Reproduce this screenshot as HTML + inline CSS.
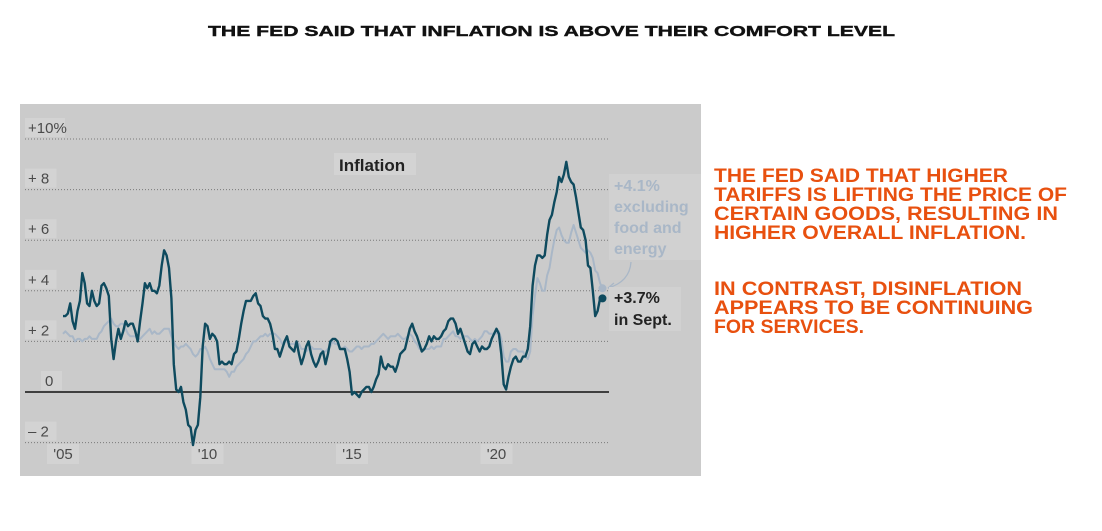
<!DOCTYPE html>
<html><head><meta charset="utf-8"><style>
html,body{margin:0;padding:0;background:#fff;}
svg{display:block;font-family:"Liberation Sans",sans-serif;}
</style></head><body>
<svg id="root" width="1102" height="531" viewBox="0 0 1102 531">
<text x="208" y="36" font-size="15" font-weight="bold" fill="#111" stroke="#111" stroke-width="0.4" textLength="687" lengthAdjust="spacingAndGlyphs">THE FED SAID THAT INFLATION IS ABOVE THEIR COMFORT LEVEL</text>
<rect x="20" y="104" width="681" height="372" fill="#cbcbcb"/>
<g id="grid"></g>
<g id="ticks"></g>
<g id="xticks"></g>
<g id="series"></g>
<rect x="334" y="153" width="82" height="22" fill="#d3d3d3"/>
<text x="339" y="171" font-size="17" font-weight="bold" fill="#222">Inflation</text>
<g font-size="16" font-weight="bold" fill="#a9b7c7">
<rect x="609" y="174" width="92" height="86" fill="#d1d1d1"/>
<text x="614" y="191">+4.1%</text>
<text x="614" y="212">excluding</text>
<text x="614" y="233">food and</text>
<text x="614" y="254">energy</text>
</g>
<path d="M631,262 C630,276 622,284 608,288" fill="none" stroke="#a9b7c7" stroke-width="1.3"/>
<path d="M608,288 l6,-5 M608,288 l7,1" fill="none" stroke="#a9b7c7" stroke-width="1.3"/>
<g font-size="16" font-weight="bold" fill="#222">
<rect x="609" y="287" width="72" height="44" fill="#d1d1d1"/>
<text x="614" y="303">+3.7%</text>
<text x="614" y="325">in Sept.</text>
</g>
<g font-size="19" font-weight="bold" fill="#e8500f">
<text x="714" y="182" textLength="294" lengthAdjust="spacingAndGlyphs">THE FED SAID THAT HIGHER</text>
<text x="714" y="201" textLength="353" lengthAdjust="spacingAndGlyphs">TARIFFS IS LIFTING THE PRICE OF</text>
<text x="714" y="220" textLength="344" lengthAdjust="spacingAndGlyphs">CERTAIN GOODS, RESULTING IN</text>
<text x="714" y="239" textLength="312" lengthAdjust="spacingAndGlyphs">HIGHER OVERALL INFLATION.</text>
<text x="714" y="295" textLength="308" lengthAdjust="spacingAndGlyphs">IN CONTRAST, DISINFLATION</text>
<text x="714" y="314" textLength="319" lengthAdjust="spacingAndGlyphs">APPEARS TO BE CONTINUING</text>
<text x="714" y="333" textLength="150" lengthAdjust="spacingAndGlyphs">FOR SERVICES.</text>
</g>
</svg>
<script>
const yTicks=[10,8,6,4,2,0,-2];
const yTickLabels=["+10%","+ 8","+ 6","+ 4","+ 2","0","– 2"];
const xTicks=[2005,2010,2015,2020];
const xTickLabels=["'05","'10","'15","'20"];
const headline=[3.0,3.0,3.1,3.5,2.8,2.5,3.2,3.6,4.7,4.3,3.5,3.4,
4.0,3.6,3.4,3.5,4.2,4.3,4.1,3.8,2.1,1.3,2.0,2.5,
2.1,2.4,2.8,2.6,2.7,2.7,2.4,2.0,2.8,3.5,4.3,4.1,
4.3,4.0,4.0,3.9,4.2,5.0,5.6,5.4,4.9,3.7,1.1,0.1,
0.0,0.2,-0.4,-0.7,-1.3,-1.4,-2.1,-1.5,-1.3,-0.2,1.8,2.7,
2.6,2.1,2.3,2.2,2.0,1.1,1.2,1.1,1.1,1.2,1.1,1.5,
1.6,2.1,2.7,3.2,3.6,3.6,3.6,3.8,3.9,3.5,3.4,3.0,
2.9,2.9,2.7,2.3,1.7,1.7,1.4,1.7,2.0,2.2,1.8,1.7,
1.6,2.0,1.5,1.1,1.4,1.8,2.0,1.5,1.2,1.0,1.2,1.5,
1.6,1.1,1.5,2.0,2.1,2.1,2.0,1.7,1.7,1.7,1.3,0.8,
-0.1,0.0,-0.1,-0.2,0.0,0.1,0.2,0.2,0.0,0.2,0.5,0.7,
1.4,1.0,0.9,1.1,1.0,1.0,0.8,1.1,1.5,1.6,1.7,2.1,
2.5,2.7,2.4,2.2,1.9,1.6,1.7,1.9,2.2,2.0,2.2,2.1,
2.1,2.2,2.4,2.5,2.8,2.9,2.9,2.7,2.3,2.5,2.2,1.9,
1.6,1.5,1.9,2.0,1.8,1.6,1.8,1.7,1.7,1.8,2.1,2.3,
2.5,2.3,1.5,0.3,0.1,0.6,1.0,1.3,1.4,1.2,1.2,1.4,
1.4,1.7,2.6,4.2,5.0,5.4,5.4,5.3,5.4,6.2,6.8,7.0,
7.5,7.9,8.5,8.3,8.6,9.1,8.5,8.3,8.2,7.7,7.1,6.5,
6.4,6.0,5.0,4.9,4.0,3.0,3.2,3.7,3.7];
const core=[2.3,2.4,2.3,2.2,2.2,2.0,2.1,2.1,2.0,2.1,2.1,2.2,
2.1,2.1,2.1,2.3,2.4,2.6,2.7,2.8,2.9,2.7,2.6,2.6,
2.7,2.7,2.5,2.3,2.2,2.2,2.2,2.1,2.1,2.2,2.3,2.4,
2.5,2.3,2.4,2.3,2.3,2.4,2.5,2.5,2.5,2.2,2.0,1.8,
1.7,1.8,1.8,1.9,1.8,1.7,1.5,1.4,1.5,1.7,1.7,1.8,
1.6,1.3,1.1,0.9,0.9,0.9,0.9,0.9,0.8,0.6,0.8,0.8,
1.0,1.1,1.2,1.3,1.5,1.6,1.8,2.0,2.0,2.1,2.2,2.2,
2.3,2.2,2.3,2.3,2.3,2.2,2.1,1.9,2.0,2.0,1.9,1.9,
1.9,2.0,1.9,1.7,1.7,1.6,1.7,1.8,1.7,1.7,1.7,1.7,
1.6,1.6,1.7,1.8,2.0,1.9,1.9,1.7,1.7,1.8,1.7,1.6,
1.6,1.7,1.8,1.8,1.7,1.8,1.8,1.8,1.9,1.9,2.0,2.1,
2.2,2.3,2.2,2.1,2.2,2.2,2.2,2.3,2.2,2.1,2.1,2.2,
2.3,2.2,2.0,1.9,1.7,1.7,1.7,1.7,1.7,1.8,1.7,1.8,
1.8,1.8,2.1,2.1,2.2,2.3,2.4,2.2,2.2,2.1,2.2,2.2,
2.2,2.1,2.0,2.1,2.0,2.1,2.2,2.4,2.4,2.3,2.3,2.3,
2.3,2.4,2.1,1.4,1.2,1.2,1.6,1.7,1.7,1.6,1.6,1.6,
1.4,1.3,1.6,3.0,3.8,4.5,4.3,4.0,4.0,4.6,4.9,5.5,
6.0,6.4,6.5,6.2,6.0,5.9,5.9,6.3,6.6,6.3,6.0,5.7,
5.6,5.5,5.6,5.5,5.3,4.8,4.7,4.3,4.1];
const startYear=2005;
const NS="http://www.w3.org/2000/svg";
function xScale(year){return 63+28.9*(year-2005);}
function yScale(v){return 392-25.3*v;}
function mk(tag,attrs,parent){const e=document.createElementNS(NS,tag);for(const k in attrs)e.setAttribute(k,attrs[k]);parent.appendChild(e);return e;}
const grid=document.getElementById('grid'),ticks=document.getElementById('ticks'),xt=document.getElementById('xticks'),ser=document.getElementById('series');
yTicks.forEach((v,i)=>{
  const y=yScale(v);
  let l;
  if(v===0){l=mk('line',{x1:25,x2:609,y1:y,y2:y,stroke:'#111','stroke-width':1.5},grid);}
  else{l=mk('line',{x1:25,x2:608,y1:y,y2:y,stroke:'#7a7a7a','stroke-width':1,'stroke-dasharray':'1 2'},grid);}
  
  
  const lbl=yTickLabels[i];
  const w=lbl.length*8.5+6;
  const bx=v===0?41:25;
  const r=mk('rect',{x:bx,y:y-21,width:v===0?21:w,height:19,fill:'#d3d3d3'},ticks);
  
  
  const t=mk('text',{x:v===0?45:28,y:y-6,'font-size':15,fill:'#4a4a4a'},ticks);
  t.textContent=lbl;
  
  
});
xTicks.forEach((yr,i)=>{
  const x=xScale(yr);
  const r=mk('rect',{x:x-16,y:444,width:32,height:20,fill:'#d3d3d3'},xt);
  
  
  const t=mk('text',{x:x,y:459,'font-size':15,fill:'#4a4a4a','text-anchor':'middle'},xt);
  t.textContent=xTickLabels[i];
  
  
});
function path(arr){return arr.map((v,i)=>(i?'L':'M')+xScale(startYear+i/12).toFixed(1)+','+yScale(v).toFixed(1)).join(' ');}
const pc=mk('path',{d:path(core),fill:'none',stroke:'#a9b7c7','stroke-width':2,'stroke-linejoin':'round'},ser);


const ph=mk('path',{d:path(headline),fill:'none',stroke:'#0e4a5e','stroke-width':2.4,'stroke-linejoin':'round'},ser);


const li=core.length-1;
const dc=mk('circle',{cx:xScale(startYear+li/12),cy:yScale(core[li]),r:4,fill:'#a9b7c7'},ser);


const hi=headline.length-1;
const dh=mk('circle',{cx:xScale(startYear+hi/12),cy:yScale(headline[hi]),r:4,fill:'#0e4a5e'},ser);


</script>
</body></html>
